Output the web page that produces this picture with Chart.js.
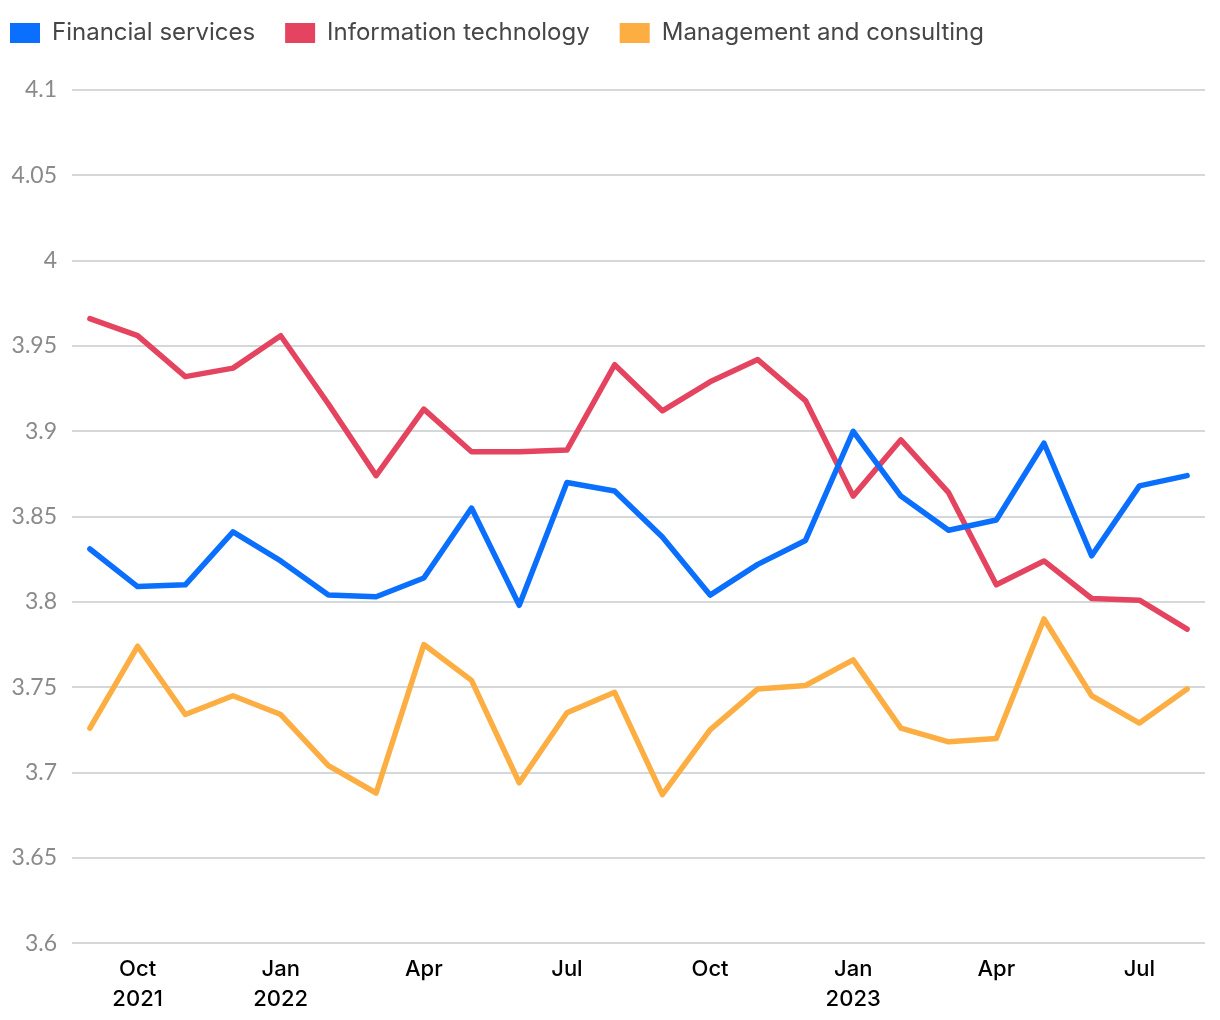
<!DOCTYPE html>
<html>
<head>
<meta charset="utf-8">
<script src="https://cdn.jsdelivr.net/npm/chart.js@4.4.1/dist/chart.umd.min.js"></script>
<style>
  html, body { margin:0; padding:0; background:#fff; }
  #wrap { width:1220px; height:1020px; }
</style>
</head>
<body>
<div id="wrap"><canvas id="chart"></canvas></div>
<script>
// ===============================
// DATA
// ===============================
const months = [
  "2021-09","2021-10","2021-11","2021-12",
  "2022-01","2022-02","2022-03","2022-04","2022-05","2022-06",
  "2022-07","2022-08","2022-09","2022-10","2022-11","2022-12",
  "2023-01","2023-02","2023-03","2023-04","2023-05","2023-06",
  "2023-07","2023-08"
];

// shown under the axis (empty = no label)
const xTickLabels = [
  "", ["Oct","2021"], "", "",
  ["Jan","2022"], "", "", "Apr", "", "",
  "Jul", "", "", "Oct", "", "",
  ["Jan","2023"], "", "", "Apr", "", "",
  "Jul", ""
];

const financial = [
  3.831, 3.809, 3.810, 3.841, 3.824, 3.804, 3.803, 3.814, 3.855, 3.798,
  3.870, 3.865, 3.838, 3.804, 3.822, 3.836, 3.900, 3.862, 3.842, 3.848,
  3.893, 3.827, 3.868, 3.874
];

const infoTech = [
  3.966, 3.956, 3.932, 3.937, 3.956, 3.916, 3.874, 3.913, 3.888, 3.888,
  3.889, 3.939, 3.912, 3.929, 3.942, 3.918, 3.862, 3.895, 3.864, 3.810,
  3.824, 3.802, 3.801, 3.784
];

const consulting = [
  3.726, 3.774, 3.734, 3.745, 3.734, 3.704, 3.688, 3.775, 3.754, 3.694,
  3.735, 3.747, 3.687, 3.725, 3.749, 3.751, 3.766, 3.726, 3.718, 3.720,
  3.790, 3.745, 3.729, 3.749
];

const seriesNames = ["Financial services", "Information technology", "Management and consulting"];
const seriesColors = ["#0b6ffd", "#e4445f", "#fdae42"];

// ===============================
// legend sits a bit further left/up than chart.js puts it
// ===============================
const legendNudge = {
  id: "legendNudge",
  afterLayout(chart){
    if(!chart.legend) return;
    chart.legend.left -= 20;
    chart.legend.top -= 35;
  }
};

function makeSet(label, data, color){
  return {
    label: label,
    // x = month index, so the axis can be padded a little at each end
    data: data.map((y, i) => ({ x: i, y: y })),
    borderColor: color,
    backgroundColor: color,
    borderWidth: 5.5,
    pointRadius: 0,
    pointHoverRadius: 0,
    tension: 0,
    borderCapStyle: "round",
    borderJoinStyle: "round",
    fill: false
  };
}

const ctx = document.getElementById("chart");

new Chart(ctx, {
  type: "line",
  data: {
    labels: months,
    datasets: [
      makeSet(seriesNames[0], financial, seriesColors[0]),
      makeSet(seriesNames[1], infoTech, seriesColors[1]),
      makeSet(seriesNames[2], consulting, seriesColors[2])
    ]
  },
  plugins: [legendNudge],
  options: {
    responsive: true,
    maintainAspectRatio: false,
    animation: false,
    layout: {
      padding: { top: 26, right: 15, bottom: -5, left: 0 }
    },
    plugins: {
      tooltip: { enabled: false },
      legend: {
        position: "top",
        align: "start",
        labels: {
          boxWidth: 30,
          boxHeight: 20,
          padding: 30,
          color: "#464646",
          font: { family: "Inter", size: 24 },
          generateLabels: chart => {
            const items = Chart.defaults.plugins.legend.labels.generateLabels(chart);
            items.forEach(it => { it.lineWidth = 0; });
            return items;
          }
        }
      }
    },
    scales: {
      x: {
        type: "linear",
        min: -0.375,
        max: months.length - 1 + 0.375,
        grid: { display: false, drawTicks: false },
        border: { display: false },
        afterBuildTicks: s => {
          s.ticks = xTickLabels
            .map((l, i) => (l ? { value: i } : null))
            .filter(t => t);
        },
        ticks: {
          autoSkip: false,
          maxRotation: 0,
          minRotation: 0,
          padding: 11,
          color: "#000",
          font: { family: "Inter", size: 22, weight: 500, lineHeight: 1.36 },
          callback: v => xTickLabels[v]
        }
      },
      y: {
        min: 3.6,
        max: 4.1,
        afterFit: s => { s.width = 72; },
        grid: { color: "#d5d8d8", lineWidth: 2, drawTicks: false },
        border: { display: false },
        ticks: {
          stepSize: 0.05,
          padding: 15,
          color: "#8a8a8a",
          font: { family: "Lato", size: 23 },
          callback: v => String(Math.round(v * 100) / 100)
        }
      }
    }
  }
});
</script>
</body>
</html>
